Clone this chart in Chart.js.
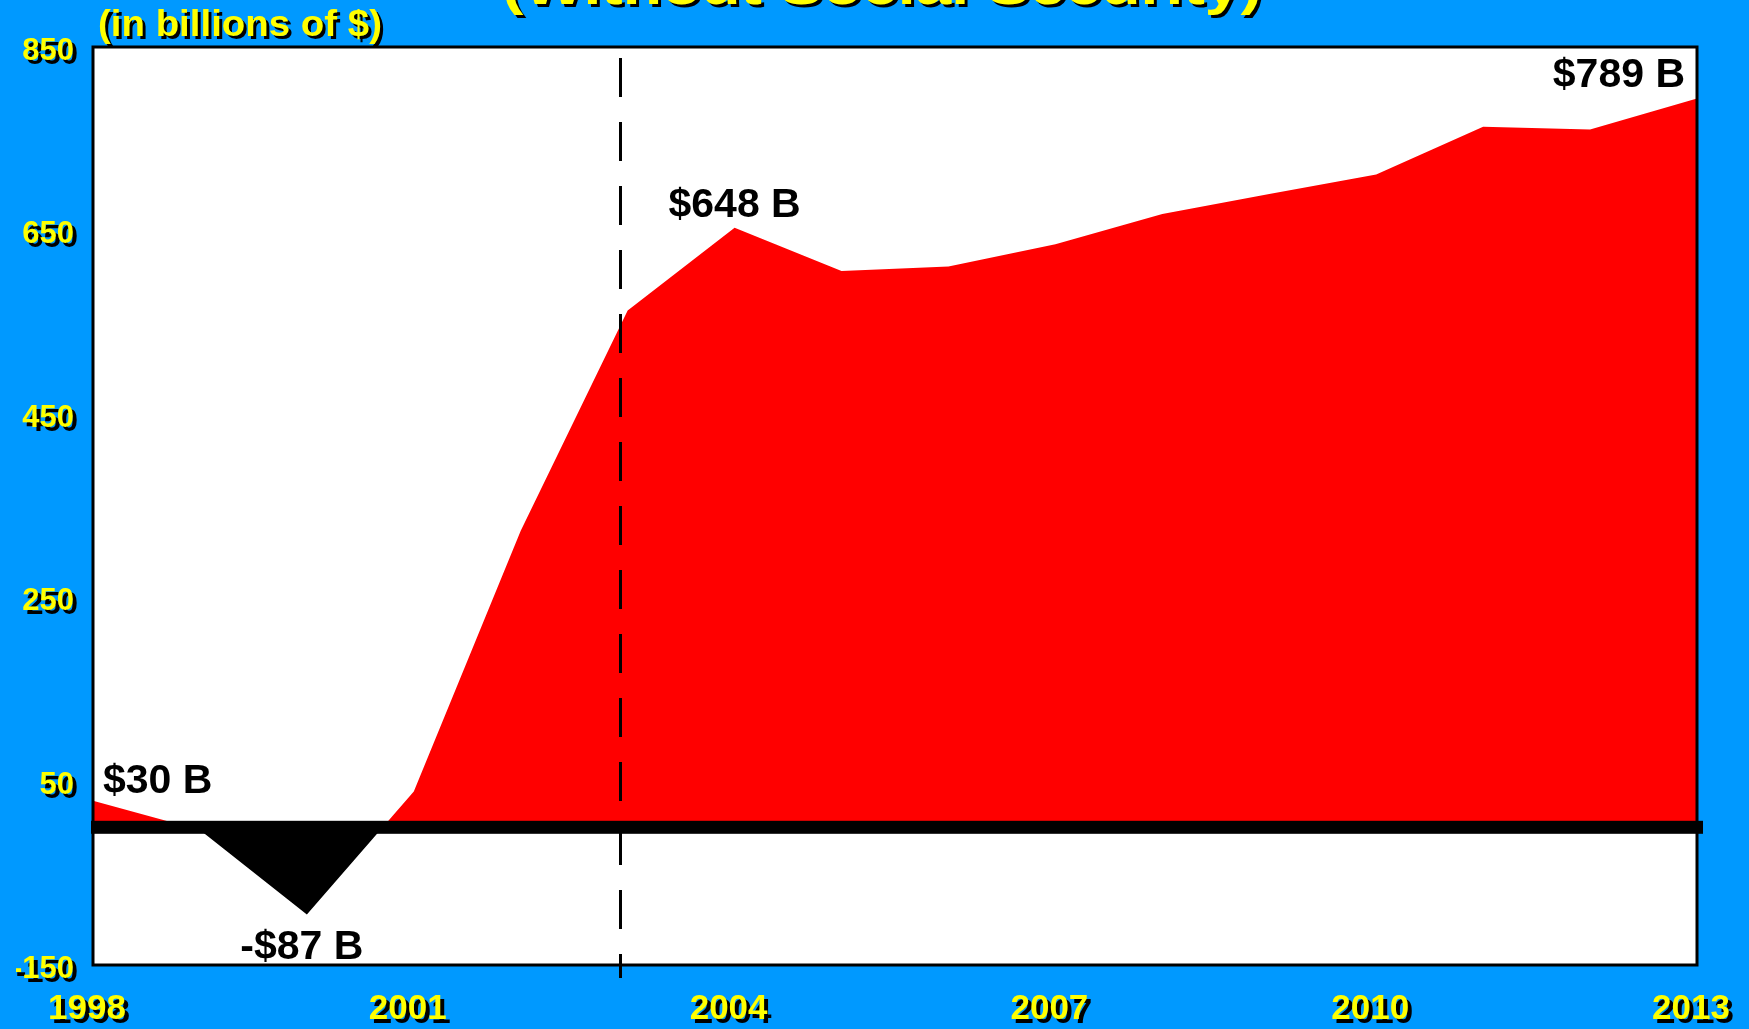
<!DOCTYPE html>
<html>
<head>
<meta charset="utf-8">
<title>Surplus without Social Security</title>
<script src="https://cdn.jsdelivr.net/npm/chart.js@4/dist/chart.umd.min.js"></script>
<style>
  html, body { margin: 0; padding: 0; background: #0099ff; }
  #wrap { width: 1749px; height: 1029px; }
</style>
</head>
<body>
<div id="wrap"><canvas id="surplusChart" width="1749" height="1029"></canvas></div>
<script>
// values (billions of $)
const years = ["1998", "1999", "2000", "2001", "2002", "2003", "2004", "2005",
  "2006", "2007", "2008", "2009", "2010", "2011", "2012", "2013"];
const surplus = [29, -3, -95, 39, 323, 563, 653, 606, 611, 635, 668, 690, 711, 763, 760, 794];
const yTicks = [-150, 50, 250, 450, 650, 850];
const shownYears = ["1998", "2001", "2004", "2007", "2010", "2013"];
const callouts = ["$30 B", "-$87 B", "$648 B", "$789 B"];
const calloutYears = ["1998", "2000", "2004", "2013"];
const titleText = "(Without Social Security)";
const unitText = "(in billions of $)";

const FONT = '"Liberation Sans", Arial, Helvetica, sans-serif';

// where each callout sits relative to its point: [align, dx, dy]
const calloutPlace = [["left", 10, -8], ["center", -5, 44], ["center", 0, -11], ["right", -12, -11]];

// yellow text with a hard black drop shadow, squeezed/stretched to a width
function shadowText(ctx, text, x, y, size, width) {
  ctx.save();
  ctx.font = "bold " + size + "px " + FONT;
  ctx.textAlign = "left";
  ctx.textBaseline = "alphabetic";
  const sx = width ? width / ctx.measureText(text).width : 1;
  ctx.translate(x, y);
  ctx.scale(sx, 1);
  ctx.fillStyle = "#000000";
  ctx.fillText(text, 3 / sx, 3);
  ctx.fillStyle = "#ffff00";
  ctx.fillText(text, 0, 0);
  ctx.restore();
}

const framePlugin = {
  id: "frame",
  beforeDraw(chart) {
    const ctx = chart.ctx;
    const a = chart.chartArea;
    ctx.save();
    ctx.fillStyle = "#0099ff";
    ctx.fillRect(0, 0, chart.width, chart.height);
    ctx.fillStyle = "#ffffff";
    ctx.fillRect(a.left, a.top, a.right - a.left, a.bottom - a.top);
    ctx.restore();
  },
  afterDatasetsDraw(chart) {
    const ctx = chart.ctx;
    const a = chart.chartArea;
    const x = chart.scales.x;
    const y = chart.scales.y;

    ctx.save();
    // plot frame
    ctx.strokeStyle = "#000000";
    ctx.lineWidth = 3;
    ctx.strokeRect(a.left, a.top, a.right - a.left, a.bottom - a.top);

    // heavy zero line
    const y0 = y.getPixelForValue(0);
    ctx.fillStyle = "#000000";
    ctx.fillRect(a.left - 2, y0 - 6.5, a.right - a.left + 8, 13);

    // dashed divider just left of 2003
    const xd = Math.round(x.getPixelForValue(4.93)) + 0.5;
    ctx.setLineDash([39, 25]);
    ctx.lineWidth = 3;
    ctx.beginPath();
    ctx.moveTo(xd, a.top + 11);
    ctx.lineTo(xd, a.bottom + 13);
    ctx.stroke();
    ctx.setLineDash([]);

    // value callouts
    ctx.font = "bold 41px " + FONT;
    ctx.fillStyle = "#000000";
    ctx.textBaseline = "alphabetic";
    callouts.forEach((txt, i) => {
      const idx = years.indexOf(calloutYears[i]);
      const p = calloutPlace[i];
      ctx.textAlign = p[0];
      ctx.fillText(txt, x.getPixelForValue(idx) + p[1], y.getPixelForValue(surplus[idx]) + p[2]);
    });
    ctx.restore();

    // tick labels are drawn after this (z: 1), give them the drop shadow
    ctx.save();
    ctx.shadowColor = "#000000";
    ctx.shadowBlur = 0;
    ctx.shadowOffsetX = 4;
    ctx.shadowOffsetY = 4;
  },
  afterDraw(chart) {
    const ctx = chart.ctx;
    ctx.restore();
    shadowText(ctx, titleText, 502, 4, 52, 760);
    shadowText(ctx, unitText, 98, 36, 36, 284);
  }
};

const ctx = document.getElementById("surplusChart");
new Chart(ctx, {
  type: "line",
  data: {
    labels: years,
    datasets: [{
      data: surplus,
      fill: { target: "origin", above: "#ff0000", below: "#000000" },
      borderColor: "rgba(0,0,0,0)",
      borderWidth: 0,
      pointRadius: 0,
      tension: 0
    }]
  },
  options: {
    responsive: false,
    animation: false,
    devicePixelRatio: 1,
    layout: { padding: { left: 16, right: 52, top: 47, bottom: 0 } },
    plugins: {
      legend: { display: false },
      tooltip: { enabled: false },
      title: { display: false }
    },
    scales: {
      x: {
        grid: { display: false, drawTicks: false },
        border: { display: false },
        ticks: {
          z: 1,
          autoSkip: false,
          maxRotation: 0,
          padding: 23,
          labelOffset: -6,
          color: "#ffff00",
          font: { family: FONT, size: 35, weight: "bold" },
          callback: function (val, i) {
            return shownYears.includes(years[i]) ? years[i] : "";
          }
        },
        afterFit: (s) => {
          s.height = 64;
          // keep the end labels from pushing the plot area inwards
          s.paddingLeft = 0;
          s.paddingRight = 0;
        }
      },
      y: {
        min: -150,
        max: 850,
        grid: { display: false, drawTicks: false },
        border: { display: false },
        afterBuildTicks: (s) => { s.ticks = yTicks.map((v) => ({ value: v })); },
        ticks: {
          z: 1,
          padding: 19,
          labelOffset: 4,
          color: "#ffff00",
          font: { family: FONT, size: 31, weight: "bold" }
        },
        afterFit: (s) => {
          s.width = 77;
          s.paddingTop = 0;
          s.paddingBottom = 0;
        }
      }
    }
  },
  plugins: [framePlugin]
});
</script>
</body>
</html>
